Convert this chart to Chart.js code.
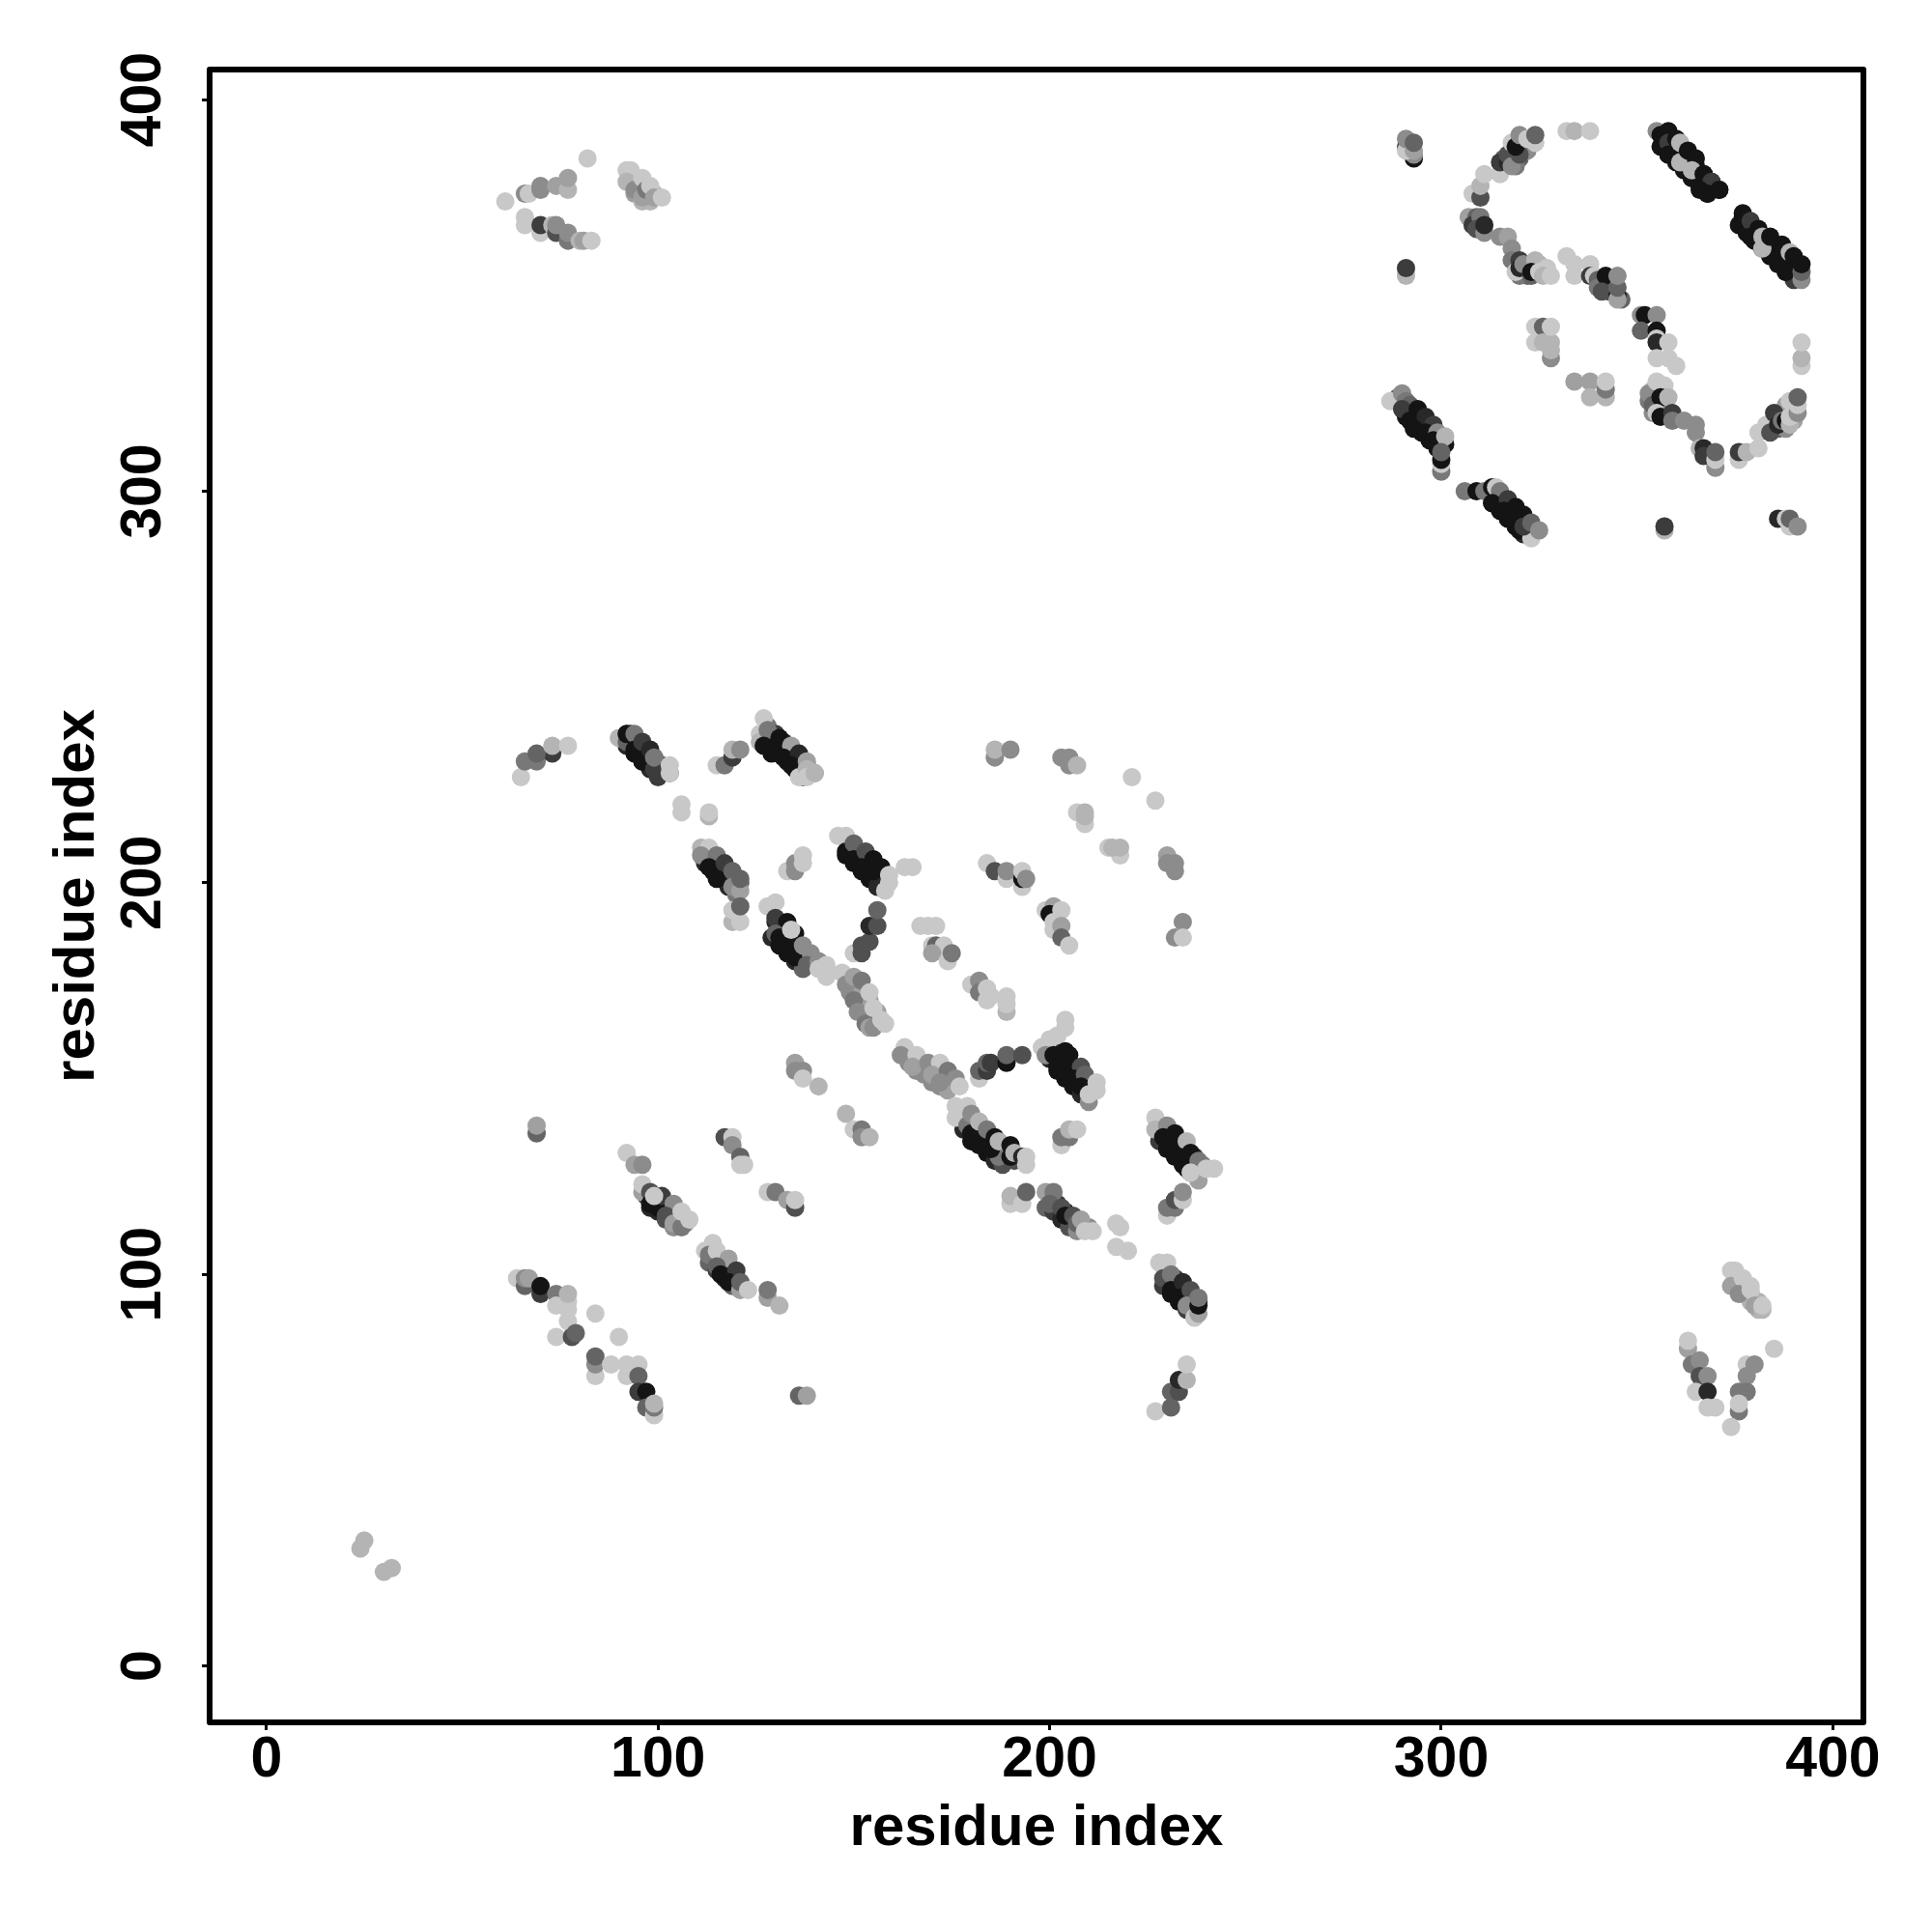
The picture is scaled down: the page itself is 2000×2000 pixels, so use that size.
<!DOCTYPE html>
<html>
<head>
<meta charset="utf-8">
<title>residue contacts</title>
<script src="https://cdn.jsdelivr.net/npm/chart.js@4"></script>
<style>
    html, body { margin: 0; padding: 0; background: #fff; }
    canvas { display: block; }
</style>
</head>
<body>
<canvas id="contactChart" width="2000" height="2000"></canvas>
<script>
/* global Chart */

const axisLabel  = 'residue index';
const tickValues = [0, 100, 200, 300, 400];
const xMin = -14.5;
const xMax = 407.8;
const yMin = -14.43;
const yMax = 407.7;

// [residue x, residue y, contact level 0..9], drawn in this order

// contacts that mostly show as the body of the diagonal bands, so they go underneath
const bandDark = [
    [357, 391, 9], [359, 389, 9], [361, 387, 8], [363, 385, 9], [365, 383, 9], [367, 381, 8], [369, 379, 9], [371, 377, 9],
    [356, 388, 9], [358, 386, 9], [360, 384, 9], [362, 382, 9], [364, 380, 9], [366, 378, 9], [368, 376, 9],
    [377, 370, 9], [379, 368, 8], [381, 366, 9], [383, 364, 9], [385, 362, 9], [387, 360, 8], [389, 358, 9], [391, 356, 9],
    [376, 368, 9], [378, 366, 9], [380, 364, 9], [382, 362, 9], [384, 360, 9], [386, 358, 9], [388, 356, 9], [390, 354, 7],
    [289, 324, 5], [291, 322, 7], [293, 320, 8], [295, 318, 9], [297, 316, 8], [299, 314, 9], [301, 312, 9],
    [291, 319, 9], [293, 317, 9], [295, 315, 9], [297, 313, 9], [299, 311, 9],
    [314, 300, 7], [316, 298, 7], [318, 296, 8], [320, 294, 8], [322, 292, 7], [324, 290, 5],
    [313, 297, 9], [315, 295, 9], [317, 293, 9], [319, 291, 9], [321, 289, 8],
    [93, 238, 8], [95, 236, 7], [97, 234, 8], [99, 232, 7], [101, 230, 6], [103, 228, 5],
    [92, 235, 8], [94, 233, 9], [96, 231, 9], [98, 229, 8], [100, 227, 7],
    [128, 240, 4], [130, 238, 7], [132, 236, 8], [134, 234, 7], [136, 232, 7], [138, 230, 5], [140, 228, 3],
    [127, 237, 8], [129, 235, 9], [131, 233, 9], [133, 231, 9], [135, 229, 9], [137, 227, 5],
    [113, 208, 4], [115, 206, 6], [117, 204, 7], [119, 202, 6], [121, 200, 5],
    [112, 205, 8], [114, 203, 9], [116, 201, 9], [118, 199, 8], [120, 197, 4],
    [149, 210, 5], [151, 208, 7], [153, 206, 8], [155, 204, 8], [157, 202, 7],
    [148, 207, 9], [150, 205, 9], [152, 203, 9], [154, 201, 9], [156, 199, 8],
    [130, 190, 8], [132, 188, 8], [134, 186, 7], [136, 184, 6], [138, 182, 4], [140, 180, 3],
    [129, 186, 8], [131, 184, 9], [133, 182, 9], [135, 180, 8], [137, 178, 5],
    [179, 140, 5], [181, 138, 7], [183, 136, 8], [185, 134, 7], [187, 132, 8], [189, 131, 9], [191, 129, 6],
    [178, 137, 8], [180, 134, 9], [182, 135, 9], [184, 131, 9], [186, 129, 8], [188, 128, 6],
    [201, 158, 8], [203, 156, 9], [205, 154, 9], [207, 152, 8], [209, 150, 7], [211, 148, 3],
    [200, 155, 8], [202, 152, 9], [204, 150, 9], [206, 148, 9], [208, 146, 8], [210, 144, 3],
    [229, 138, 6], [231, 136, 8], [233, 134, 8], [235, 132, 8], [237, 130, 7], [239, 128, 4],
    [228, 134, 7], [230, 132, 9], [232, 130, 9], [234, 128, 9], [236, 126, 7], [238, 124, 2],
    [230, 101, 7], [232, 99, 8], [234, 97, 7], [236, 95, 6], [238, 93, 7],
    [229, 97, 7], [231, 95, 9], [233, 93, 9], [235, 91, 7], [237, 89, 3],
    [200, 120, 6], [202, 118, 7], [204, 116, 8], [206, 114, 6], [208, 113, 4], [210, 112, 3],
    [199, 117, 5], [201, 116, 7], [203, 114, 8], [205, 112, 6], [207, 111, 3],
    [97, 120, 7], [99, 119, 8], [101, 118, 7], [103, 116, 5], [105, 114, 3], [107, 113, 2],
    [98, 117, 8], [100, 116, 8], [102, 114, 6], [104, 112, 3],
    [113, 106, 4], [115, 104, 4], [117, 102, 5], [119, 100, 7], [121, 98, 4],
    [113, 103, 5], [115, 101, 7], [117, 99, 8], [119, 97, 5],
];

const bandGrey = [
    [148, 176, 2], [149, 172, 3], [150, 174, 3], [151, 170, 3], [152, 172, 2], [152, 168, 3], [153, 166, 3], [154, 170, 2], [155, 165, 3], [156, 167, 2],
    [163, 156, 2], [165, 155, 3], [167, 153, 3], [169, 152, 2], [171, 150, 3], [173, 149, 3], [175, 148, 2],
    [164, 154, 3], [166, 152, 3], [168, 151, 3], [170, 149, 3], [172, 148, 3], [174, 147, 2],
    [316, 385, 5], [318, 387, 6], [320, 389, 4], [322, 388, 2], [316, 383, 5], [318, 385, 6], [320, 385, 5], [322, 387, 3], [319, 383, 4],
    [321, 356, 5], [323, 358, 4], [322, 355, 5], [324, 356, 4], [325, 358, 1], [326, 356, 2], [320, 355, 4],
    [384, 317, 5], [385, 318, 4], [387, 320, 3], [388, 322, 2], [386, 316, 5], [388, 316, 3], [390, 318, 2],
    [353, 323, 4], [354, 325, 2], [355, 322, 4], [356, 321, 4], [354, 320, 3],
    [342, 353, 6], [343, 351, 6], [344, 352, 5], [346, 349, 5],
    [93, 380, 1], [95, 378, 2], [97, 376, 2], [99, 376, 1], [94, 376, 2], [96, 374, 1], [98, 374, 1],
    [375, 99, 1], [377, 97, 2], [379, 95, 2], [381, 93, 1], [375, 97, 2], [377, 95, 2], [379, 93, 1], [381, 91, 1],
];

const corner = [
    [24, 30, 1], [25, 32, 1], [30, 24, 1], [32, 25, 1],
];

const topLeft = [
    [61, 374, 0], [66, 376, 3], [67, 376, 0], [70, 377, 3], [70, 378, 3], [74, 378, 2], [77, 377, 1], [77, 380, 2], [82, 385, 0],
    [66, 370, 0], [66, 368, 0], [70, 366, 0], [70, 368, 7], [73, 368, 1], [74, 366, 6], [74, 368, 3],
    [77, 364, 4], [77, 366, 3], [80, 364, 1], [81, 364, 2], [83, 364, 0],
    [92, 382, 0], [93, 382, 0], [92, 379, 1], [94, 377, 3], [96, 380, 0], [96, 375, 2], [97, 377, 4], [98, 378, 0], [99, 375, 2], [101, 375, 0],
];

const topRightArc = [
    [291, 388, 7], [293, 385, 9], [293, 386, 3], [291, 387, 0], [293, 387, 2], [291, 390, 3], [293, 389, 5],
    [308, 376, 0], [310, 375, 6], [310, 378, 1], [311, 381, 0], [315, 381, 0],
    [315, 384, 7], [317, 384, 8], [317, 386, 6], [318, 383, 3], [320, 386, 6], [318, 389, 0], [319, 388, 9], [320, 391, 3], [322, 390, 0], [324, 389, 0], [324, 391, 5],
    [332, 392, 0], [334, 392, 1], [338, 392, 0],
    [307, 370, 2], [309, 370, 5], [308, 368, 7], [310, 370, 4], [309, 367, 6], [311, 366, 3], [311, 368, 8],
    [315, 365, 3], [317, 365, 2], [318, 362, 3], [318, 359, 4], [320, 359, 7], [319, 356, 0], [320, 357, 8], [321, 358, 3], [323, 355, 5], [324, 359, 1], [323, 356, 9], [325, 356, 0], [327, 357, 0], [326, 355, 1], [328, 355, 0],
    [291, 356, 0], [291, 355, 1], [291, 357, 7],
    [332, 360, 0], [334, 358, 0], [338, 358, 0], [334, 355, 0], [338, 355, 7], [339, 355, 0],
    [340, 354, 5], [340, 352, 4], [342, 355, 9], [341, 351, 6], [345, 350, 9], [345, 349, 2], [345, 352, 5], [345, 355, 3],
];

const topRightBars = [
    [355, 392, 3], [356, 391, 9], [358, 392, 9], [358, 389, 7], [358, 386, 9], [360, 390, 9], [361, 389, 1], [361, 384, 1], [363, 387, 9],
    [364, 380, 9], [365, 385, 9], [364, 382, 1], [367, 381, 9], [369, 379, 7], [366, 377, 9], [368, 376, 9], [371, 377, 9],
    [377, 371, 9], [377, 368, 9], [379, 369, 7], [381, 367, 9], [379, 365, 9], [380, 364, 9], [382, 362, 1], [382, 365, 1],
    [384, 365, 9], [387, 363, 9], [386, 359, 9], [389, 361, 1], [390, 360, 9], [388, 356, 9],
    [392, 354, 3], [392, 356, 5], [392, 358, 9],
];

const topRightInner = [
    [351, 345, 3], [352, 345, 9], [355, 345, 3], [351, 341, 5], [355, 341, 9], [355, 339, 0], [355, 338, 8], [358, 338, 0], [355, 334, 0], [358, 334, 0], [360, 332, 0],
    [354, 326, 0], [353, 325, 3], [354, 322, 5], [355, 328, 0], [357, 327, 0], [356, 324, 9], [358, 324, 1], [355, 320, 0], [356, 319, 9], [359, 320, 7], [359, 318, 4],
    [362, 318, 3], [365, 317, 3], [365, 315, 3], [366, 311, 1], [367, 311, 8], [367, 309, 7], [370, 306, 3], [370, 308, 0], [370, 310, 5],
    [376, 308, 0], [376, 310, 7], [378, 310, 1], [381, 311, 0], [381, 315, 0],
    [383, 317, 0], [384, 315, 6], [385, 320, 7], [386, 317, 8], [387, 318, 4], [388, 318, 9], [389, 317, 1], [389, 323, 0], [389, 319, 0], [391, 320, 3], [391, 322, 0], [391, 324, 5],
    [392, 332, 0], [392, 334, 1], [392, 338, 0],
    [357, 291, 0], [357, 290, 1], [357, 291, 7],
    [386, 293, 8], [388, 293, 0], [389, 291, 0], [389, 293, 5], [391, 291, 3],
    [324, 342, 0], [324, 338, 0], [326, 342, 5], [326, 338, 1], [328, 334, 3], [328, 336, 1], [328, 338, 1], [328, 342, 0],
    [334, 328, 2], [338, 328, 2], [338, 324, 1], [342, 324, 1], [342, 326, 4], [342, 328, 0],
];

const topRightLower = [
    [287, 323, 0], [290, 325, 3], [291, 323, 4], [292, 322, 5], [290, 321, 7], [294, 321, 9], [292, 318, 9], [296, 319, 8], [293, 316, 9],
    [298, 317, 7], [296, 315, 9], [299, 315, 3], [298, 313, 9], [301, 314, 1],
    [300, 305, 4], [300, 307, 0], [300, 308, 9], [300, 310, 5],
    [306, 300, 4], [309, 300, 9], [311, 300, 4], [313, 301, 9], [314, 301, 0], [315, 300, 4], [313, 297, 9], [317, 298, 7], [316, 295, 9], [319, 296, 9],
    [318, 293, 9], [321, 294, 9], [320, 290, 9], [323, 288, 0], [321, 291, 7], [323, 292, 5], [325, 290, 3],
];

const midUpper = [
    [65, 227, 0], [66, 231, 4], [69, 231, 4], [73, 233, 7], [69, 233, 5], [73, 235, 1], [77, 235, 0],
    [90, 237, 1], [92, 238, 3], [92, 236, 5], [92, 238, 9], [94, 238, 4], [94, 234, 9], [96, 236, 7], [96, 231, 9], [98, 234, 8], [99, 229, 7], [99, 232, 4], [103, 228, 0], [103, 230, 0],
    [106, 220, 0], [106, 218, 0], [113, 217, 1], [113, 218, 0],
    [115, 230, 0], [117, 230, 4], [119, 232, 7], [119, 234, 1], [121, 234, 3],
    [127, 242, 0], [126, 238, 0], [126, 236, 1], [128, 239, 4], [127, 235, 9], [131, 237, 9], [129, 233, 9], [134, 235, 2], [132, 232, 9],
    [136, 233, 8], [134, 230, 9], [138, 231, 2], [136, 227, 0], [138, 229, 1], [138, 227, 0], [140, 228, 1],
    [186, 232, 3], [186, 234, 1], [190, 234, 3],
    [203, 232, 3], [205, 232, 3], [205, 230, 3], [207, 230, 1], [221, 227, 0], [227, 221, 0],
    [207, 218, 0], [209, 215, 0], [209, 217, 1], [209, 218, 1],
];

const midBars = [
    [111, 209, 1], [113, 209, 0], [111, 207, 3], [115, 207, 4], [113, 204, 9], [117, 205, 7], [115, 201, 9], [119, 203, 5], [119, 199, 3], [121, 198, 2], [121, 201, 5],
    [119, 190, 1], [121, 190, 0], [119, 193, 0], [121, 194, 5],
    [133, 203, 0], [135, 205, 3], [135, 203, 3], [137, 205, 0], [137, 207, 0],
    [146, 212, 0], [148, 212, 0], [148, 208, 9], [150, 210, 5], [150, 206, 9], [153, 208, 6], [152, 204, 9], [155, 206, 9], [155, 203, 9], [157, 204, 9],
    [158, 198, 0], [159, 200, 0], [159, 202, 0], [163, 204, 0], [165, 204, 0],
    [128, 194, 0], [130, 195, 0], [130, 191, 7], [133, 190, 9], [130, 187, 5], [131, 186, 9], [133, 183, 9], [135, 187, 9], [134, 188, 0], [135, 181, 9],
    [137, 184, 3], [139, 182, 3], [138, 179, 5], [141, 180, 3], [141, 178, 0], [143, 176, 0], [143, 179, 0],
    [150, 182, 0], [152, 182, 6], [152, 184, 6], [154, 185, 6], [154, 189, 8], [156, 189, 6], [156, 193, 5],
    [147, 177, 0], [148, 174, 3], [150, 176, 2], [150, 170, 4], [152, 175, 4], [151, 167, 3], [153, 164, 4], [154, 172, 0], [154, 163, 2], [155, 163, 3], [155, 168, 0], [157, 165, 0], [158, 164, 0],
    [135, 154, 2], [135, 152, 3], [137, 152, 3], [137, 150, 0], [141, 148, 1],
    [148, 141, 1], [150, 137, 0], [152, 137, 4], [152, 135, 3], [154, 135, 1],
];

const midDiagonal = [
    [163, 158, 0], [162, 156, 3], [166, 156, 0], [165, 153, 2], [169, 154, 3], [172, 154, 0], [170, 151, 2], [174, 152, 4], [172, 149, 3], [176, 150, 3], [177, 148, 0],
    [176, 140, 0], [176, 143, 0], [179, 143, 0], [179, 138, 4], [180, 141, 3], [180, 136, 9], [182, 133, 9], [182, 139, 1], [184, 137, 4],
    [186, 135, 9], [187, 130, 4], [185, 132, 9], [187, 134, 1], [190, 133, 9], [190, 130, 9], [191, 131, 1], [193, 130, 8], [194, 128, 0], [194, 130, 0],
    [182, 150, 0], [182, 152, 5], [184, 152, 7], [184, 154, 5], [185, 154, 7], [189, 154, 9], [189, 156, 5], [193, 156, 6],
    [204, 163, 0], [204, 165, 0], [202, 161, 0], [200, 160, 0], [198, 158, 0], [199, 156, 3], [201, 156, 9], [204, 157, 9], [205, 156, 9], [202, 153, 9], [204, 152, 9], [208, 153, 6],
    [206, 150, 9], [209, 151, 5], [208, 148, 9], [210, 146, 0], [212, 147, 0], [212, 149, 0],
    [184, 205, 0], [186, 203, 6], [189, 201, 0], [189, 203, 3], [193, 199, 0], [193, 201, 9], [193, 203, 0], [194, 201, 3],
    [199, 193, 0], [201, 194, 2], [200, 192, 9], [203, 193, 0], [201, 188, 0], [201, 190, 0], [203, 189, 2], [203, 186, 5], [205, 184, 0],
    [167, 189, 0], [169, 189, 0], [171, 189, 0], [170, 184, 0], [171, 184, 5], [173, 184, 0], [170, 182, 2], [174, 180, 0], [175, 182, 4],
    [180, 174, 0], [182, 175, 3], [182, 172, 4], [184, 173, 0], [184, 170, 0], [185, 171, 0], [189, 167, 1], [189, 169, 0], [189, 171, 0],
    [215, 209, 0], [218, 207, 0], [218, 209, 1], [216, 209, 1],
    [230, 207, 2], [230, 205, 3], [232, 203, 3], [232, 205, 3], [234, 190, 3], [232, 186, 3], [234, 186, 0],
    [203, 133, 0], [203, 135, 4], [205, 135, 4], [205, 137, 1], [207, 137, 0],
];

const midRight = [
    [227, 140, 0], [227, 137, 1], [230, 138, 3], [229, 135, 9], [232, 136, 9], [231, 133, 9], [235, 134, 1], [233, 130, 9], [236, 131, 9], [235, 127, 9], [238, 129, 4],
    [236, 126, 0], [240, 127, 0], [242, 127, 0],
    [230, 115, 0], [230, 117, 4], [232, 117, 4], [232, 119, 6], [234, 119, 0], [234, 121, 3],
    [190, 118, 0], [190, 120, 1], [193, 118, 0], [194, 121, 5],
    [199, 121, 2], [201, 121, 4], [200, 118, 5], [203, 117, 6], [204, 115, 9], [206, 115, 6], [207, 113, 5], [208, 114, 2], [209, 111, 0], [211, 111, 0],
    [217, 113, 0], [218, 112, 0], [217, 107, 0], [220, 106, 0],
    [228, 103, 0], [230, 103, 0], [229, 99, 6], [231, 100, 4], [231, 96, 9], [234, 98, 8], [233, 94, 9], [236, 96, 6], [235, 92, 3], [237, 89, 0], [238, 90, 2], [238, 92, 9], [238, 94, 4],
    [227, 65, 0], [231, 66, 5], [231, 70, 5], [233, 70, 6], [233, 73, 8], [235, 73, 1], [235, 77, 0],
];

const lowerLeft = [
    [69, 136, 5], [69, 138, 2],
    [92, 131, 0], [94, 128, 2], [96, 128, 3],
    [96, 121, 2], [96, 123, 0], [98, 121, 6], [98, 118, 9], [100, 117, 9], [101, 120, 7], [99, 120, 0], [104, 118, 3], [102, 115, 6], [104, 113, 2], [106, 112, 4], [106, 116, 0], [108, 114, 0],
    [117, 135, 6], [119, 135, 0], [119, 133, 3], [121, 130, 5], [121, 128, 0], [122, 128, 0],
    [128, 121, 0], [130, 121, 4], [133, 119, 2], [135, 117, 6], [135, 119, 0],
    [112, 106, 0], [114, 108, 0], [113, 105, 4], [115, 106, 0], [118, 104, 2], [115, 102, 5], [116, 100, 9], [120, 101, 7], [118, 98, 9], [121, 96, 2], [121, 98, 5], [123, 96, 0],
    [128, 94, 2], [128, 96, 4], [131, 92, 1],
    [64, 99, 0], [66, 97, 5], [66, 99, 3], [67, 99, 2], [70, 95, 7], [70, 97, 9], [74, 95, 4], [74, 92, 0], [77, 88, 0], [77, 91, 0], [77, 93, 0], [77, 95, 1], [84, 90, 0],
    [74, 84, 0], [78, 84, 6], [79, 85, 5], [90, 84, 0],
    [84, 74, 0], [84, 77, 3], [84, 79, 5], [88, 77, 0], [92, 77, 0], [92, 74, 0], [95, 77, 0], [95, 74, 5], [95, 70, 7], [97, 70, 9], [97, 66, 5], [99, 64, 0], [99, 66, 4], [99, 67, 1],
    [136, 69, 5], [138, 69, 2],
];

const lowerRight = [
    [374, 101, 0], [375, 101, 0], [374, 97, 2], [377, 99, 0], [376, 95, 3], [379, 97, 0], [379, 96, 0], [380, 92, 2], [382, 91, 1], [382, 92, 0],
    [385, 81, 0],
    [363, 81, 2], [363, 83, 0], [364, 77, 4], [366, 78, 3], [366, 74, 6], [368, 74, 3], [365, 70, 0], [368, 70, 8], [368, 66, 0], [370, 66, 0],
    [378, 77, 0], [380, 77, 3], [378, 74, 3], [376, 70, 4], [378, 70, 4], [376, 65, 4], [376, 67, 0], [374, 61, 0],
];

const contacts = [
    ...bandDark, ...bandGrey,
    ...corner, ...topLeft, ...topRightArc, ...topRightBars, ...topRightInner, ...topRightLower,
    ...midUpper, ...midBars, ...midDiagonal, ...midRight, ...lowerLeft, ...lowerRight,
];

// darker means a stronger contact
function levelColor(level) {
    const g = 200 - level * 20;
    return `rgb(${g},${g},${g})`;
}

const fontFamily = '"Liberation Sans", Arial, sans-serif';

function fixedTicks(axis) {
    axis.ticks = tickValues.map(value => ({ value }));
}

const frame = {
    id: 'frame',
    afterDatasetsDraw(chart) {
        const { ctx, chartArea: a } = chart;
        ctx.save();
        ctx.strokeStyle = '#000';
        ctx.lineWidth = 6;
        ctx.lineJoin = 'round';
        ctx.strokeRect(a.left, a.top, a.right - a.left, a.bottom - a.top);
        ctx.restore();
    },
};

new Chart(document.getElementById('contactChart').getContext('2d'), {
    type: 'scatter',
    data: {
        datasets: [{
            label:                axisLabel,
            data:                 contacts.map(c => ({ x: c[0], y: c[1] })),
            pointBackgroundColor: contacts.map(c => levelColor(c[2])),
            pointBorderWidth:     0,
            pointRadius:          9.5,
        }],
    },
    options: {
        responsive: false,
        animation:  false,
        layout:     { padding: { top: 72, right: 71, left: 0, bottom: 0 } },
        plugins:    { legend: { display: false }, tooltip: { enabled: false } },
        scales: {
            x: {
                type: 'linear',
                min:  xMin,
                max:  xMax,
                afterBuildTicks: fixedTicks,
                afterFit(scale) { scale.height = 217; },
                grid:   { drawOnChartArea: false, tickColor: '#000', tickWidth: 3, tickLength: 8 },
                border: { display: false },
                ticks:  { color: '#000', padding: -4, maxRotation: 0, font: { family: fontFamily, size: 59, weight: 'bold' } },
                title:  { display: true, text: axisLabel, color: '#000', padding: { top: 0, bottom: 71 }, font: { family: fontFamily, size: 60, weight: 'bold' } },
            },
            y: {
                type: 'linear',
                min:  yMin,
                max:  yMax,
                afterBuildTicks: fixedTicks,
                afterFit(scale) { scale.width = 217; },
                grid:   { drawOnChartArea: false, tickColor: '#000', tickWidth: 3, tickLength: 8 },
                border: { display: false },
                ticks:  { color: '#000', padding: 10, minRotation: 90, maxRotation: 90, crossAlign: 'center', font: { family: fontFamily, size: 59, weight: 'bold' } },
                title:  { display: true, text: axisLabel, color: '#000', padding: { top: 44, bottom: 0 }, font: { family: fontFamily, size: 60, weight: 'bold' } },
            },
        },
    },
    plugins: [frame],
});
</script>
</body>
</html>
